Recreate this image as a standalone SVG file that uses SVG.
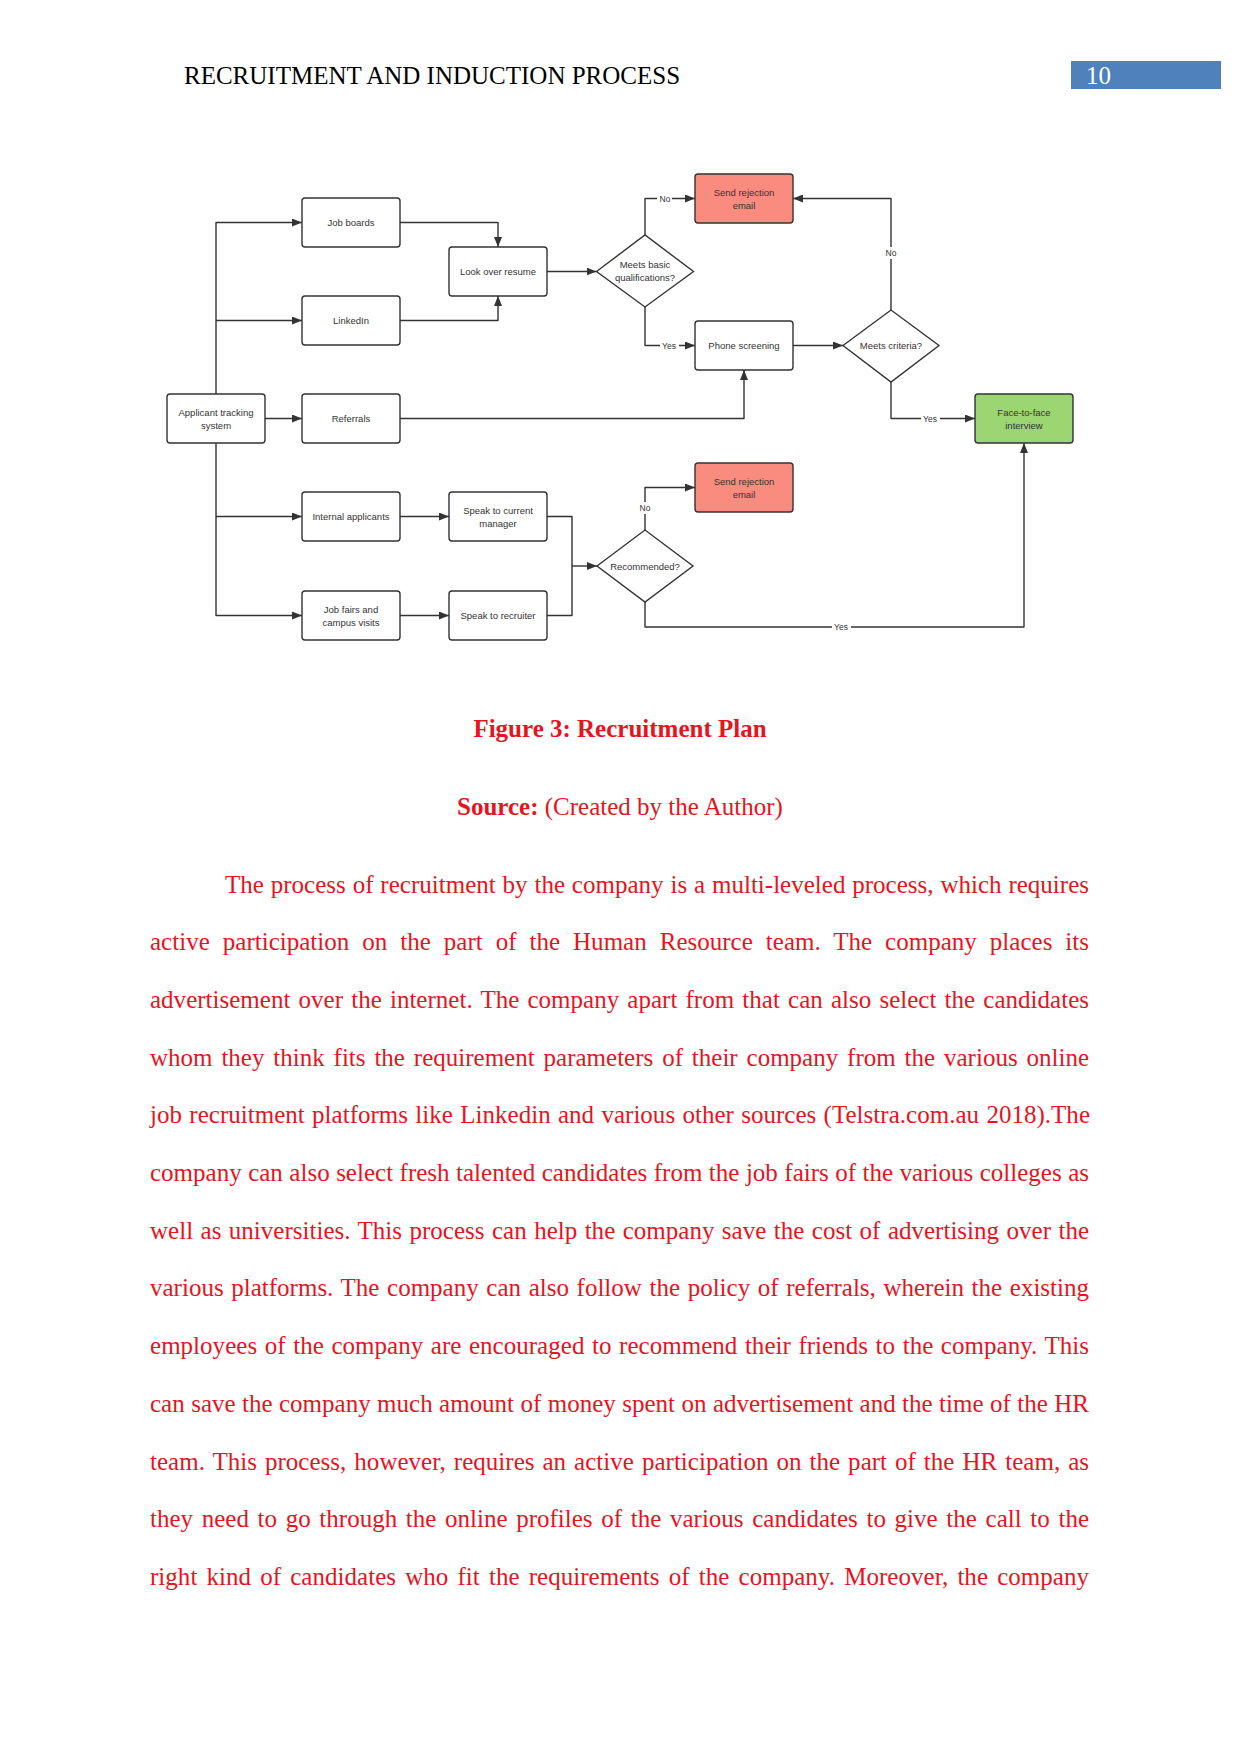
<svg xmlns="http://www.w3.org/2000/svg" width="1241" height="1754" viewBox="0 0 1241 1754">
<style>
.bg{fill:#ffffff}
.hdr{font-family:"Liberation Serif","Times New Roman",serif;font-size:25px;fill:#000}
.pn{font-family:"Liberation Serif","Times New Roman",serif;font-size:25px;fill:#fff}
.node rect,.node polygon{fill:#fff;stroke:#333;stroke-width:1.4}
.node.rej rect{fill:#FA8C7F}
.node.ok rect{fill:#9CD672}
.node text{font-family:"Liberation Sans",Arial,sans-serif;font-size:9.5px;fill:#333;text-anchor:middle}
.conn path{fill:none;stroke:#333;stroke-width:1.4;stroke-linejoin:round}
.lbl{font-family:"Liberation Sans",Arial,sans-serif;font-size:8.5px;fill:#333;text-anchor:middle}
.lblbg{fill:#fff}
.cap{font-family:"Liberation Serif","Times New Roman",serif;font-size:25px;fill:#E6141E;text-anchor:middle}
.body{font-family:"Liberation Serif","Times New Roman",serif;font-size:25px;fill:#E6141E}
</style>
<defs>
<marker id="arr" viewBox="0 0 10 8" refX="10" refY="4" markerWidth="10" markerHeight="8" markerUnits="userSpaceOnUse" orient="auto">
<path d="M0,0 L10,4 L0,8 z" fill="#333"/>
</marker>
</defs>
<rect class="bg" x="0" y="0" width="1241" height="1754"/>

<text class="hdr" x="184" y="84">RECRUITMENT AND INDUCTION PROCESS</text>
<rect x="1071" y="61" width="150" height="28" fill="#4F81BD"/>
<text class="pn" x="1086" y="84">10</text>

<g id="connectors" class="conn">
<path d="M216,394 V222.5 H302" marker-end="url(#arr)"/>
<path d="M216,320.5 H302" marker-end="url(#arr)"/>
<path d="M265,418.5 H302" marker-end="url(#arr)"/>
<path d="M216,443 V615.5 H302" marker-end="url(#arr)"/>
<path d="M216,516.5 H302" marker-end="url(#arr)"/>
<path d="M400,222.5 H498 V247" marker-end="url(#arr)"/>
<path d="M400,320.5 H498 V296" marker-end="url(#arr)"/>
<path d="M547,271.5 H596.5" marker-end="url(#arr)"/>
<path d="M645,235 V198.5 H695" marker-end="url(#arr)"/>
<path d="M645,307 V345.5 H695" marker-end="url(#arr)"/>
<path d="M400,418.5 H744 V370" marker-end="url(#arr)"/>
<path d="M793,345.5 H843" marker-end="url(#arr)"/>
<path d="M891,310 V198.5 H793" marker-end="url(#arr)"/>
<path d="M891,382 V418.5 H975" marker-end="url(#arr)"/>
<path d="M400,516.5 H449" marker-end="url(#arr)"/>
<path d="M400,615.5 H449" marker-end="url(#arr)"/>
<path d="M547,516.5 H572 V615.5 H547"/>
<path d="M572,566 H597" marker-end="url(#arr)"/>
<path d="M645,530 V487.5 H695" marker-end="url(#arr)"/>
<path d="M645,602 V627 H1024 V443" marker-end="url(#arr)"/>
<rect class="lblbg" x="657" y="193" width="15" height="11"/>
<text class="lbl" x="665" y="201.5">No</text>
<rect class="lblbg" x="660" y="340" width="19" height="11"/>
<text class="lbl" x="669" y="348.5">Yes</text>
<rect class="lblbg" x="883" y="247" width="16" height="12"/>
<text class="lbl" x="891" y="256">No</text>
<rect class="lblbg" x="921" y="413" width="19" height="11"/>
<text class="lbl" x="930" y="421.5">Yes</text>
<rect class="lblbg" x="637" y="502" width="16" height="12"/>
<text class="lbl" x="645" y="511">No</text>
<rect class="lblbg" x="832" y="622" width="19" height="11"/>
<text class="lbl" x="841" y="630">Yes</text>
</g>

<g id="ats" class="node"><rect x="167" y="394" width="98" height="49" rx="3"/><text x="216" y="415.5">Applicant tracking</text><text x="216" y="429">system</text></g>
<g id="jobboards" class="node"><rect x="302" y="198" width="98" height="49" rx="3"/><text x="351" y="226">Job boards</text></g>
<g id="linkedin" class="node"><rect x="302" y="296" width="98" height="49" rx="3"/><text x="351" y="324">LinkedIn</text></g>
<g id="referrals" class="node"><rect x="302" y="394" width="98" height="49" rx="3"/><text x="351" y="422">Referrals</text></g>
<g id="internal" class="node"><rect x="302" y="492" width="98" height="49" rx="3"/><text x="351" y="520">Internal applicants</text></g>
<g id="jobfairs" class="node"><rect x="302" y="591" width="98" height="49" rx="3"/><text x="351" y="612.5">Job fairs and</text><text x="351" y="626">campus visits</text></g>
<g id="resume" class="node"><rect x="449" y="247" width="98" height="49" rx="3"/><text x="498" y="275">Look over resume</text></g>
<g id="manager" class="node"><rect x="449" y="492" width="98" height="49" rx="3"/><text x="498" y="513.5">Speak to current</text><text x="498" y="527">manager</text></g>
<g id="recruiter" class="node"><rect x="449" y="591" width="98" height="49" rx="3"/><text x="498" y="619">Speak to recruiter</text></g>
<g id="basicq" class="node"><polygon points="596.5,271.5 645,235 693.5,271.5 645,307"/><text x="645" y="268">Meets basic</text><text x="645" y="281">qualifications?</text></g>
<g id="reject1" class="node rej"><rect x="695" y="174" width="98" height="49" rx="3"/><text x="744" y="195.5">Send rejection</text><text x="744" y="209">email</text></g>
<g id="phone" class="node"><rect x="695" y="321" width="98" height="49" rx="3"/><text x="744" y="349">Phone screening</text></g>
<g id="criteria" class="node"><polygon points="843,345.5 891,310 939,345.5 891,382"/><text x="891" y="349">Meets criteria?</text></g>
<g id="f2f" class="node ok"><rect x="975" y="394" width="98" height="49" rx="3"/><text x="1024" y="415.5">Face-to-face</text><text x="1024" y="429">interview</text></g>
<g id="reject2" class="node rej"><rect x="695" y="463" width="98" height="49" rx="3"/><text x="744" y="484.5">Send rejection</text><text x="744" y="498">email</text></g>
<g id="recommended" class="node"><polygon points="597,566 645,530 693,566 645,602"/><text x="645" y="569.5">Recommended?</text></g>

<text class="cap" x="620" y="737" font-weight="bold">Figure 3: Recruitment Plan</text>
<text class="cap" x="620" y="815"><tspan font-weight="bold">Source:</tspan> (Created by the Author)</text>

<g id="bodytext">
<text class="body" x="225" y="892.5" textLength="864" lengthAdjust="spacing" word-spacing="0.6">The process of recruitment by the company is a multi-leveled process, which requires</text>
<text class="body" x="150" y="950.2" textLength="939" lengthAdjust="spacing" word-spacing="6.7">active participation on the part of the Human Resource team. The company places its</text>
<text class="body" x="150" y="1007.9" textLength="939" lengthAdjust="spacing" word-spacing="1.9">advertisement over the internet. The company apart from that can also select the candidates</text>
<text class="body" x="150" y="1065.6" textLength="939" lengthAdjust="spacing" word-spacing="2.6">whom they think fits the requirement parameters of their company from the various online</text>
<text class="body" x="150" y="1123.3" textLength="940" lengthAdjust="spacing" word-spacing="1">job recruitment platforms like Linkedin and various other sources (Telstra.com.au 2018).The</text>
<text class="body" x="150" y="1181" textLength="939" lengthAdjust="spacing" word-spacing="0.25">company can also select fresh talented candidates from the job fairs of the various colleges as</text>
<text class="body" x="150" y="1238.7" textLength="939" lengthAdjust="spacing" word-spacing="1.2">well as universities. This process can help the company save the cost of advertising over the</text>
<text class="body" x="150" y="1296.4" textLength="939" lengthAdjust="spacing" word-spacing="1.35">various platforms. The company can also follow the policy of referrals, wherein the existing</text>
<text class="body" x="150" y="1354.1" textLength="939" lengthAdjust="spacing" word-spacing="1.3">employees of the company are encouraged to recommend their friends to the company. This</text>
<text class="body" x="150" y="1411.8" textLength="939" lengthAdjust="spacing" word-spacing="0.2">can save the company much amount of money spent on advertisement and the time of the HR</text>
<text class="body" x="150" y="1469.5" textLength="939" lengthAdjust="spacing" word-spacing="1.7">team. This process, however, requires an active participation on the part of the HR team, as</text>
<text class="body" x="150" y="1527.2" textLength="939" lengthAdjust="spacing" word-spacing="2.4">they need to go through the online profiles of the various candidates to give the call to the</text>
<text class="body" x="150" y="1584.9" textLength="939" lengthAdjust="spacing" word-spacing="2.85">right kind of candidates who fit the requirements of the company. Moreover, the company</text>
</g>
</svg>
